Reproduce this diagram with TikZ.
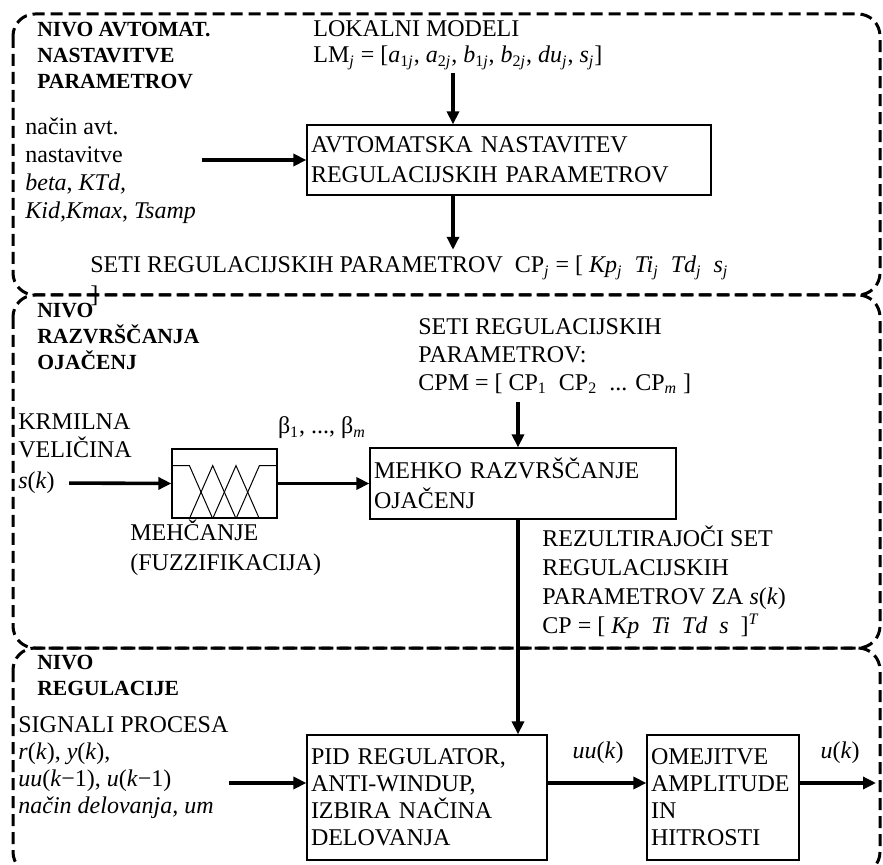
\documentclass[tikz,border=0pt]{standalone}
\usepackage{fontspec}
\setmainfont{Liberation Serif}
\usetikzlibrary{arrows.meta,positioning,calc}
\newcommand{\sub}[1]{\textsubscript{#1}}
\newcommand{\subj}{\textsubscript{\textit{j}}}

\begin{document}
\begin{tikzpicture}[x=0.5pt,y=-0.5pt,
  nivo/.style={draw, line width=1.5pt, dash pattern=on 6pt off 3pt, rounded corners=11pt},
  blok/.style={draw, line width=0.6pt, inner xsep=2pt, inner ysep=0pt, align=left, font=\fontsize{12}{15}\selectfont},
  tok/.style={-{Triangle[length=6.5pt,width=6pt]}, line width=1.8pt},
  napis/.style={inner sep=0pt, align=left, anchor=west, font=\fontsize{12}{14}\selectfont},
  naslov/.style={inner sep=0pt, align=left, anchor=west, font=\fontsize{10.8}{13}\selectfont\bfseries}]
\useasboundingbox (0,0) rectangle (883,865);

% nivoji
\draw[nivo] (13,14) rectangle (880,295);
\draw[nivo] (13,295) rectangle (880,648);
\draw[nivo] (13,648) rectangle (880,874);

% nivo avtomatske nastavitve
\node[naslov] (n1) at (37,56) {NIVO AVTOMAT.\\NASTAVITVE\\PARAMETROV};
\node[napis, font=\fontsize{12}{13}\selectfont] (lm) at (313,45) {LOKALNI MODELI\\LM\subj{} = [\textit{a}\sub{1\textit{j}}, \textit{a}\sub{2\textit{j}}, \textit{b}\sub{1\textit{j}}, \textit{b}\sub{2\textit{j}}, \textit{du}\subj, \textit{s}\subj]};
\node[blok, text width=198pt, minimum height=35pt] (nast) at (509,160) {AVTOMATSKA NASTAVITEV\\REGULACIJSKIH PARAMETROV};
\node[napis] (nacin) at (25,171) {način avt.\\nastavitve\\\textit{beta}, \textit{KTd,}\\\textit{Kid,Kmax}, \textit{Tsamp}};
\node[napis] (setj) at (90,268) {SETI REGULACIJSKIH PARAMETROV\ \ CP\subj{} = [ \textit{Kp}\subj\ \ \textit{Ti}\subj\ \ \textit{Td}\subj\ \ \textit{s}\subj};
\node[napis] (zaklep) at (90,296) {]};

% nivo razvrscanja ojacenj
\node[naslov] (n2) at (37,336) {NIVO\\RAZVRŠČANJA\\OJAČENJ};
\node[napis] (cpm) at (418,356) {SETI REGULACIJSKIH\\PARAMETROV:\\CPM = [ CP\sub{1}\ \ CP\sub{2}\ \ ... CP\sub{\textit{m}} ]};
\node[napis] (krm) at (18,436) {KRMILNA\\VELIČINA};
\node[napis] (sk) at (18,483) {\textit{s}(\textit{k})};
\node[draw, line width=0.6pt, minimum width=52.5pt, minimum height=34.5pt, inner sep=0pt] (fuz) at (224.5,483.5) {};
\node[napis, anchor=center] (beta) at (322,428) {β\sub{1}, ..., β\sub{\textit{m}}};
\node[napis, font=\fontsize{12}{15}\selectfont] (meh) at (130,548) {MEHČANJE\\(FUZZIFIKACIJA)};
\node[blok, text width=149pt, minimum height=35.5pt] (mehko) at (523,483.5) {MEHKO RAZVRŠČANJE\\OJAČENJ};
\node[napis, font=\fontsize{12}{14.5}\selectfont] (rez) at (542,582) {REZULTIRAJOČI SET\\REGULACIJSKIH\\PARAMETROV ZA \textit{s}(\textit{k})\\CP = [ \textit{Kp}\ \ \textit{Ti}\ \ \textit{Td}\ \ \textit{s}\ \ ]\textsuperscript{\textit{T}}};

% mehcanje
\begin{scope}[shift={(fuz.south west)}, line width=0.5pt]
\draw (0,-53) -- (18,-53) -- (41.3,0);
\foreach \v in {18,41.3}
  \draw (\v,0) -- (\v+23.3,-53) -- (\v+46.6,0);
\draw (64.7,0) -- (88,-53) -- (105,-53);
\end{scope}

% nivo regulacije
\node[naslov] (n3) at (37,675) {NIVO\\REGULACIJE};
\node[napis, font=\fontsize{12}{13.5}\selectfont] (sig) at (18,768) {SIGNALI PROCESA\\\textit{r}(\textit{k}), \textit{y}(\textit{k}),\\\textit{uu}(\textit{k}−1), \textit{u}(\textit{k}−1)\\\textit{način delovanja, um}};
\node[blok, text width=116pt, minimum height=62.5pt, font=\fontsize{12}{13.5}\selectfont] (pid) at (427,797.5) {PID REGULATOR,\\ANTI-WINDUP,\\IZBIRA NAČINA\\DELOVANJA};
\node[blok, text width=72pt, minimum height=62.5pt, font=\fontsize{12}{13.5}\selectfont] (ome) at (723,797.5) {OMEJITVE\\AMPLITUDE\\IN\\HITROSTI};
\node[napis, anchor=center] (uuk) at (598,753) {\textit{uu}(\textit{k})};
\node[napis, anchor=center] (uk) at (840,753) {\textit{u}(\textit{k})};

\coordinate (xa) at (453,0);
\coordinate (xb) at (518,0);
\coordinate (yc) at (0,783);
\coordinate (izhod) at (876,783);

% povezave
\draw[tok, shorten <=1.5pt] (lm.south -| xa) -- (nast.north -| xa);
\draw[tok, shorten <=3pt] (nacin.east |- nast.west) -- (nast.west);
\draw[tok, shorten >=3pt] (nast.south -| xa) -- (setj.north -| xa);
\draw[tok, shorten <=4pt] (cpm.south -| xb) -- (mehko.north -| xb);
\draw[tok, shorten <=7pt] (sk.east) -- (fuz.west);
\draw[tok] (fuz) -- (mehko);
\draw[tok] (mehko.south -| xb) -- (pid.north -| xb);
\draw[tok] (sig.east |- yc) -- (pid.west |- yc);
\draw[tok] (pid.east |- yc) -- (ome.west |- yc);
\draw[tok] (ome.east |- yc) -- (izhod);
\end{tikzpicture}
\end{document}
